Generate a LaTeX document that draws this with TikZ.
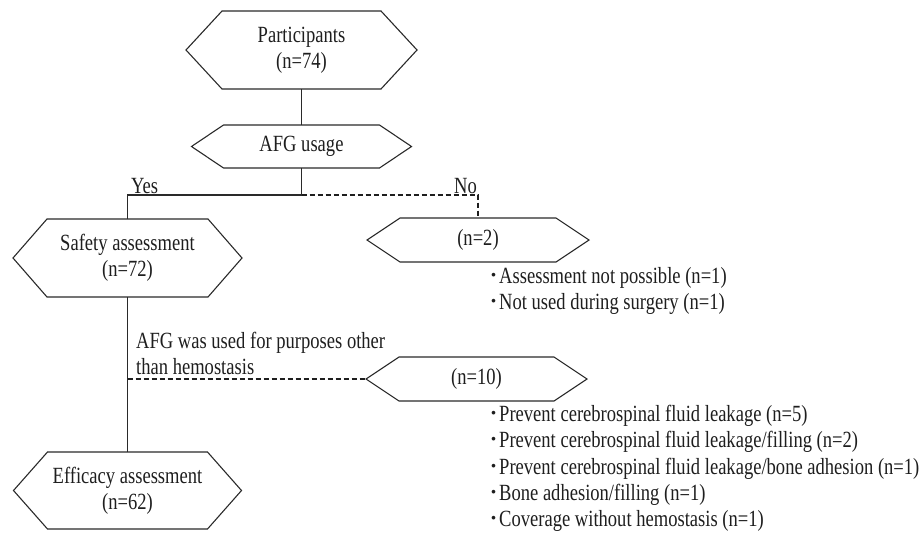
\documentclass[tikz,border=0pt]{standalone}
\usepackage{fontspec}
\setmainfont{Liberation Serif}[FakeStretch=0.80]
\newfontfamily\cjk{Noto Sans CJK JP}
\definecolor{ink}{HTML}{1E1E1E}
\definecolor{edge}{HTML}{2A2A2A}
\tikzset{
  hexbase/.style={inner sep=0pt, outer sep=0pt, align=center, text=ink,
    font=\fontsize{23.2}{26}\selectfont},
  hexline/.style={draw=edge, line width=1.1pt, line join=miter},
  solidlink/.style={draw=edge, line width=1.2pt},
  dashlink/.style={draw=ink, line width=2.2pt, dash pattern=on 5pt off 3pt},
  lbl/.style={inner sep=0pt, text=ink, font=\fontsize{23.2}{26}\selectfont},
}
\newcommand\hexnode[6]{%
  \node[hexbase, minimum width=#3, minimum height=#4] (#1) at #2 {#6};
  \draw[hexline] ([xshift=#5]#1.north west) -- ([xshift=-#5]#1.north east) -- (#1.east)
    -- ([xshift=-#5]#1.south east) -- ([xshift=#5]#1.south west) -- (#1.west) -- cycle;}
\newcommand\itm{\makebox[11pt][c]{\fontsize{22}{26}\cjk ･}}
\begin{document}
\begin{tikzpicture}[x=1pt,y=-1pt]
\useasboundingbox (0,0) rectangle (920,533);
\hexnode{part}{(301.5,50)}{231pt}{78pt}{36pt}{Participants\\(n=74)}
\hexnode{afg}{(301.5,146.5)}{220pt}{43pt}{32pt}{AFG usage}
\hexnode{safe}{(127.5,258)}{229pt}{78pt}{34pt}{Safety assessment\\(n=72)}
\hexnode{ntwo}{(478,240)}{222pt}{44pt}{33pt}{(n=2)}
\hexnode{nten}{(476.5,379)}{221pt}{44pt}{33pt}{(n=10)}
\hexnode{eff}{(127.5,490.5)}{228pt}{77pt}{34pt}{Efficacy assessment\\(n=62)}

\coordinate (br) at (afg.south |- 0,195);
\coordinate (side) at (safe.south |- nten.west);
\draw[solidlink] (part.south) -- (afg.north);
\draw[solidlink] (afg.south) -- (br) -| (safe.north);
\draw[dashlink] (br) -| (ntwo.north);
\draw[solidlink] (safe.south) -- (eff.north);
\draw[dashlink] (side) -- (nten.west);

\node[lbl, anchor=base west] (yes) at (131,193) {Yes};
\node[lbl, anchor=base east] (no) at (477,193) {No};
\node[lbl, anchor=west, align=left] (purp) at (136,353.5) {AFG was used for purposes other\\than hemostasis};

\node[lbl, anchor=west] (a1) at (488,278) {\itm Assessment not possible (n=1)};
\node[lbl, anchor=west] (a2) at (488,304) {\itm Not used during surgery (n=1)};

\node[lbl, anchor=west] (b1) at (488,416) {\itm Prevent cerebrospinal fluid leakage (n=5)};
\node[lbl, anchor=west] (b2) at (488,442.25) {\itm Prevent cerebrospinal fluid leakage/filling (n=2)};
\node[lbl, anchor=west] (b3) at (488,468.5) {\itm Prevent cerebrospinal fluid leakage/bone adhesion (n=1)};
\node[lbl, anchor=west] (b4) at (488,494.75) {\itm Bone adhesion/filling (n=1)};
\node[lbl, anchor=west] (b5) at (488,521) {\itm Coverage without hemostasis (n=1)};
\end{tikzpicture}
\end{document}
